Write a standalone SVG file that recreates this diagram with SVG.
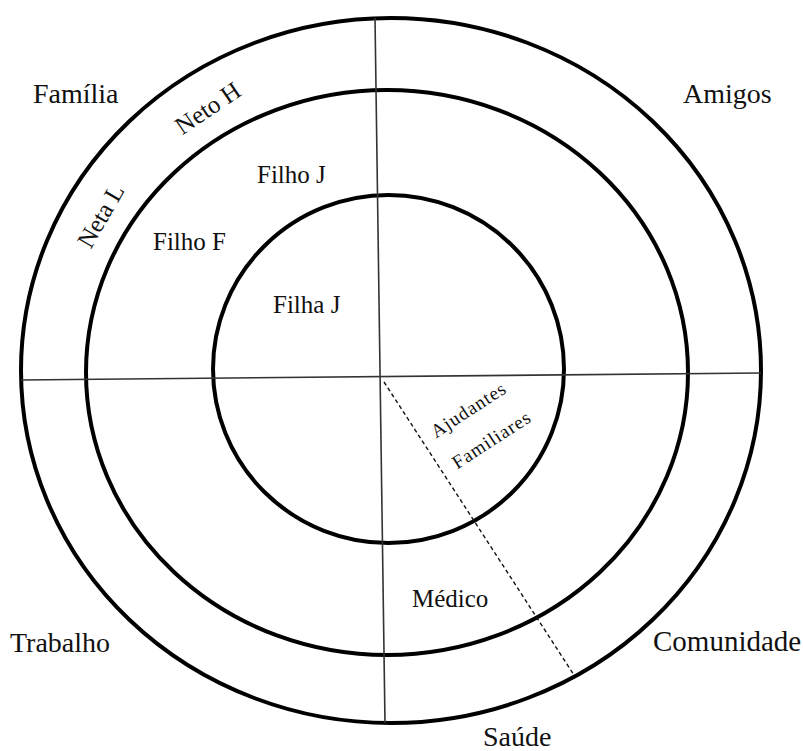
<svg xmlns="http://www.w3.org/2000/svg" width="803" height="751" viewBox="0 0 803 751">
<style>
.ring{fill:none;stroke:#000;stroke-width:4}
.axis{stroke:#333;stroke-width:1.6;fill:none}
.dash{stroke:#111;stroke-width:1.4;stroke-dasharray:4 3;fill:none}
text{font-family:"Liberation Serif","Times New Roman",serif;fill:#111}
.big{font-size:28px}
.mid{font-size:25px}
.sm{font-size:19px;letter-spacing:1px}
</style>
<rect width="803" height="751" fill="#fff"/>
<g id="rings">
<ellipse id="outer" class="ring" cx="391" cy="370.5" rx="370" ry="352.5"/>
<ellipse id="middle" class="ring" cx="387" cy="372.5" rx="301" ry="282.5"/>
<ellipse id="inner" class="ring" cx="388.5" cy="369" rx="175.5" ry="174"/>
</g>
<g id="connectors">
<line class="axis" x1="375" y1="18" x2="385" y2="723"/>
<line class="axis" x1="21" y1="380" x2="761" y2="373"/>
<line class="dash" x1="384" y1="382" x2="574" y2="675"/>
</g>
<g id="labels">
<text id="familia" class="big" x="33" y="103">Família</text>
<text id="amigos" class="big" x="683" y="103">Amigos</text>
<text id="trabalho" class="big" x="10" y="652">Trabalho</text>
<text id="comunidade" class="big" x="653" y="651" style="font-size:29px">Comunidade</text>
<text id="saude" class="big" x="483" y="746">Saúde</text>
<text id="filhoJ" class="mid" x="257" y="183">Filho J</text>
<text id="filhoF" class="mid" x="153" y="250">Filho F</text>
<text id="filhaJ" class="mid" x="273" y="313">Filha J</text>
<text id="medico" class="mid" x="412" y="607">Médico</text>
<text id="netoH" class="mid" text-anchor="middle" transform="translate(212.5,115) rotate(-34)">Neto H</text>
<text id="netaL" class="mid" text-anchor="middle" transform="translate(108,220) rotate(-60)">Neta L</text>
<text id="ajudantes" class="sm" text-anchor="middle" transform="translate(472,415) rotate(-33)">Ajudantes</text>
<text id="familiares" class="sm" text-anchor="middle" transform="translate(495,445) rotate(-33)">Familiares</text>
</g>
</svg>
